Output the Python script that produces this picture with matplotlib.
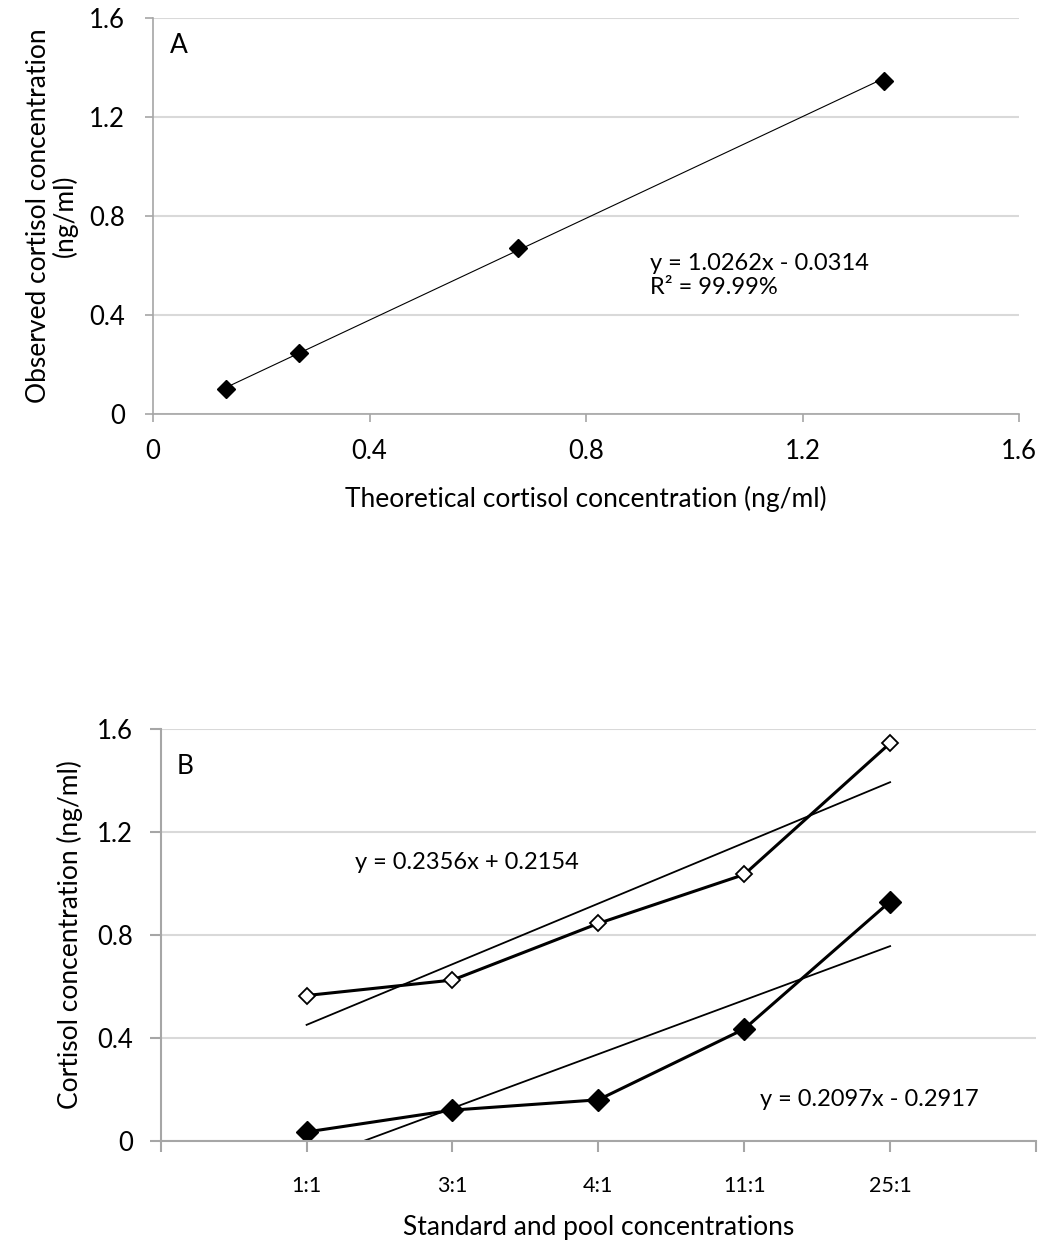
import matplotlib
matplotlib.use("Agg")
import matplotlib.pyplot as plt
import numpy as np

plt.rcParams['font.family'] = ['Lato', 'DejaVu Sans']

# Panel A data
theo = [0.135, 0.27, 0.675, 1.35]
obs = [0.10, 0.245, 0.67, 1.345]
slopeA, interA = 1.0262, -0.0314

# Panel B data
cats = ['1:1', '3:1', '4:1', '11:1', '25:1']
upper = [0.565, 0.625, 0.845, 1.035, 1.545]
lower = [0.035, 0.12, 0.16, 0.435, 0.93]
slopeU, interU = 0.2356, 0.2154
slopeL, interL = 0.2097, -0.2917

W, H = 1041, 1245
fig = plt.figure(figsize=(W/100, H/100), dpi=100)

def ax_rect(x0, y0, x1, y1):
    return [x0/W, 1 - y1/H, (x1-x0)/W, (y1-y0)/H]

grid_c = '#d9d9d9'
spine_c = '#a6a6a6'
tick_fs = 18.5
lab_fs = 19
ann_fs = 17

# Panel A
axA = fig.add_axes(ax_rect(153, 17.5, 1019, 414))
axA.set_xlim(0, 1.6)
axA.set_ylim(0, 1.6)
ticks = [0, 0.4, 0.8, 1.2, 1.6]
labels = ['0', '0.4', '0.8', '1.2', '1.6']
axA.set_xticks(ticks, labels)
axA.set_yticks(ticks, labels)
axA.yaxis.grid(True, color=grid_c, lw=1.5)
axA.set_axisbelow(True)
for s in ['top', 'right']:
    axA.spines[s].set_visible(False)
for s in ['left', 'bottom']:
    axA.spines[s].set_color(spine_c)
    axA.spines[s].set_linewidth(1.2)
axA.tick_params(axis='both', colors=spine_c, labelcolor='black', labelsize=tick_fs, length=6, width=1.2)
axA.tick_params(axis='x', pad=12)
axA.tick_params(axis='y', pad=14)
xs = np.array([theo[0], theo[-1]])
axA.plot(xs, slopeA*xs + interA, color='black', lw=0.8)
axA.plot(theo, obs, linestyle='none', marker='D', ms=9, color='black')
axA.text(0.02, 0.93, 'A', transform=axA.transAxes, fontsize=lab_fs, va='center')
axA.text(0.574, 0.35, 'y = 1.0262x - 0.0314\nR² = 99.99%', transform=axA.transAxes,
         fontsize=ann_fs, va='center', linespacing=1.2)
axA.set_xlabel('Theoretical cortisol concentration (ng/ml)', fontsize=lab_fs, labelpad=16)
axA.set_ylabel('Observed cortisol concentration\n(ng/ml)', fontsize=lab_fs, labelpad=8, linespacing=1.05)

# Panel B
axB = fig.add_axes(ax_rect(160.7, 729, 1036, 1141))
xpos = np.arange(1, len(cats) + 1)
axB.set_xlim(0, 6)
axB.set_ylim(0, 1.6)
axB.set_xticks(np.arange(0, 7), [''] + cats + [''])
axB.set_yticks(ticks, labels)
axB.yaxis.grid(True, color=grid_c, lw=1.5)
axB.set_axisbelow(True)
for s in ['top', 'right']:
    axB.spines[s].set_visible(False)
for s in ['left', 'bottom']:
    axB.spines[s].set_color(spine_c)
    axB.spines[s].set_linewidth(1.5)
axB.tick_params(axis='both', colors=spine_c, labelcolor='black', labelsize=tick_fs, length=8, width=1.5)
axB.tick_params(axis='x', labelsize=15.5, pad=17)
axB.tick_params(axis='y', pad=12)
xt = np.array([1, 5])
axB.plot(xt, slopeU*xt + interU, color='black', lw=1.3)
axB.plot(xt, slopeL*xt + interL, color='black', lw=1.3)
axB.plot(xpos, upper, color='black', lw=2.2, marker='D', ms=8, mfc='white', mec='black', mew=1.3)
axB.plot(xpos, lower, color='black', lw=2.2, marker='D', ms=11, mfc='black', mec='black')
axB.text(0.018, 0.91, 'B', transform=axB.transAxes, fontsize=lab_fs, va='center')
axB.text(0.222, 0.675, 'y = 0.2356x + 0.2154', transform=axB.transAxes, fontsize=ann_fs, va='center')
axB.text(0.685, 0.1, 'y = 0.2097x - 0.2917', transform=axB.transAxes, fontsize=ann_fs, va='center')
axB.set_xlabel('Standard and pool concentrations', fontsize=lab_fs, labelpad=14)
axB.set_ylabel('Cortisol concentration (ng/ml)', fontsize=lab_fs, labelpad=10)

fig.savefig('out.png', dpi=100, facecolor='white')
